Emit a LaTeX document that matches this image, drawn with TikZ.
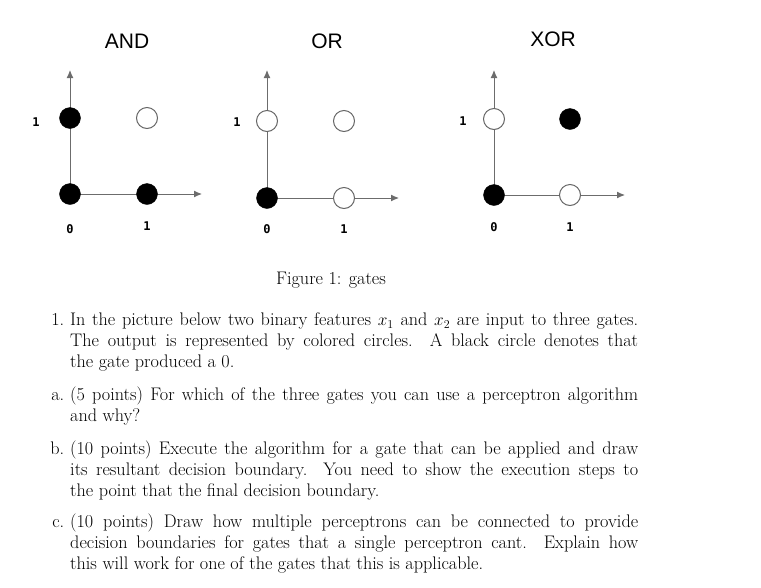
\documentclass[tikz,border=0pt]{standalone}
\usepackage{fontspec}
\newfontfamily\lab{Liberation Sans}
\newfontfamily\mono{DejaVu Sans Mono}
\tikzset{x=1pt,y=-1pt,
 ax/.style={draw=gray!85!black,line width=1pt,-{Latex[length=8pt,width=7pt]}},
 blk/.style={circle,fill=black,draw=black,minimum size=21pt,inner sep=0},
 wht/.style={circle,fill=white,draw=gray!80!black,line width=1pt,minimum size=21pt,inner sep=0},
 ttl/.style={font=\lab\fontsize{21}{24}\selectfont},
 tk/.style={font=\mono\bfseries\fontsize{12}{14}\selectfont},
 para/.style={anchor=north west,text width=568pt,align=justify,inner sep=0,font=\fontsize{18.2}{20.8}\selectfont}}
\usetikzlibrary{arrows.meta}
\begin{document}
\begin{tikzpicture}
\useasboundingbox (0,0) rectangle (761,587);
% AND
\node[ttl] (t1) at (127,41) {AND};
\coordinate (a0) at (70,194); \coordinate (ay) at (70,70); \coordinate (ax) at (202,194);
\draw[ax] (a0) -- (ay); \draw[ax] (a0) -- (ax);
\node[blk] (a00) at (70,194) {}; \node[blk] (a10) at (147,194) {};
\node[blk] (a01) at (70,118) {}; \node[wht] (a11) at (147,118) {};
\node[tk] (la1) at (36,122) {1}; \node[tk] (la0) at (70,229) {0}; \node[tk] (lax) at (147,226) {1};
% OR
\node[ttl] (t2) at (327,41) {OR};
\coordinate (o0) at (267,198); \coordinate (oy) at (267,70); \coordinate (ox) at (399,198);
\draw[ax] (o0) -- (oy); \draw[ax] (o0) -- (ox);
\node[blk] (o00) at (267,198) {}; \node[wht] (o10) at (344,198) {};
\node[wht] (o01) at (267,121) {}; \node[wht] (o11) at (344,121) {};
\node[tk] (lo1) at (237,122) {1}; \node[tk] (lo0) at (267,229) {0}; \node[tk] (lox) at (344,229) {1};
% XOR
\node[ttl] (t3) at (553,39) {XOR};
\coordinate (x0) at (494,195); \coordinate (xy) at (494,70); \coordinate (xx) at (625,195);
\draw[ax] (x0) -- (xy); \draw[ax] (x0) -- (xx);
\node[blk] (x00) at (494,195) {}; \node[wht] (x10) at (570,195) {};
\node[wht] (x01) at (494,119) {}; \node[blk] (x11) at (570,119) {};
\node[tk] (lx1) at (463,121) {1}; \node[tk] (lx0) at (494,227) {0}; \node[tk] (lxx) at (570,227) {1};
% caption
\node[font=\fontsize{18.2}{20}\selectfont] (cap) at (331,280) {Figure 1: gates};
% text
\node[para] (p1) at (70,313) {\llap{1.\hspace{6pt}}In the picture below two binary features $x_1$ and $x_2$ are input to three gates.\linebreak The output is represented by colored circles. A black circle denotes that\linebreak the gate produced a 0.};
\node[para] (pa) at (70,387) {\llap{a.\hspace{6pt}}(5 points) For which of the three gates you can use a perceptron algorithm\linebreak and why?};
\node[para] (pb) at (70,441) {\llap{b.\hspace{6pt}}(10 points) Execute the algorithm for a gate that can be applied and draw\linebreak its resultant decision boundary. You need to show the execution steps to\linebreak the point that the final decision boundary.};
\node[para] (pc) at (70,514) {\llap{c.\hspace{6pt}}(10 points) Draw how multiple perceptrons can be connected to provide\linebreak decision boundaries for gates that a single perceptron cant. Explain how\linebreak this will work for one of the gates that this is applicable.};
\end{tikzpicture}
\end{document}
